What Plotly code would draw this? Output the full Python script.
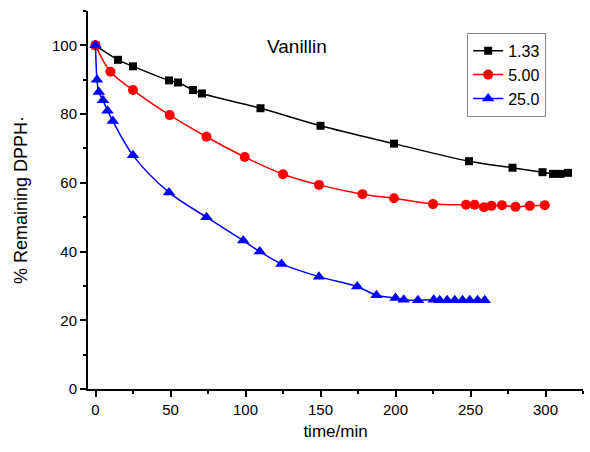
import plotly.graph_objects as go

# Series 1.33
t_133 = [0, 15, 25, 49, 55, 65, 71, 110, 150, 199, 249, 278, 298, 305, 310, 315]
r_133 = [100, 95.8, 93.9, 89.8, 89.2, 87.0, 86.0, 81.7, 76.6, 71.4, 66.3, 64.4, 63.1, 62.6, 62.6, 62.9]

# Series 5.00
t_500 = [0, 10, 25, 49.5, 74, 99.5, 125, 149, 178, 199, 225, 247, 252.7, 259, 264, 271, 280, 289.5, 299.5]
r_500 = [100, 92.3, 87.0, 79.7, 73.4, 67.5, 62.5, 59.4, 56.7, 55.5, 53.8, 53.6, 53.6, 52.9, 53.3, 53.5, 53.0, 53.3, 53.5]

# Series 25.0
t_250 = [0, 1, 2.2, 5, 8, 11.5, 25, 49, 74, 98.5, 109.5, 124, 149, 174.5, 187.3, 200, 205.5, 215,
         225.5, 229.5, 234.4, 239.5, 244.7, 249.5, 254.7, 259.5]
r_250 = [100, 90.0, 86.4, 84.0, 81.0, 78.0, 68.0, 57.2, 50.0, 43.2, 40.0, 36.4, 32.7, 29.8, 27.3, 26.5, 26.0, 25.8,
         26.0, 25.8, 25.8, 25.8, 25.8, 25.8, 25.8, 25.8]

series_names = ["1.33", "5.00", "25.0"]
x_ticks = [0, 50, 100, 150, 200, 250, 300]
y_ticks = [0, 20, 40, 60, 80, 100]

FONT = "Arial, Liberation Sans, sans-serif"

fig = go.Figure()
specs = [
    (t_133, r_133, series_names[0], "black", "square", 8),
    (t_500, r_500, series_names[1], "#ff0000", "circle", 10),
    (t_250, r_250, series_names[2], "#0000ff", "triangle-up", 11),
]
for xs, ys, nm, col, sym, sz in specs:
    fig.add_trace(go.Scatter(
        x=xs, y=ys, name=nm, mode="lines+markers",
        line=dict(color=col, width=1.5, shape="spline", smoothing=1),
        marker=dict(color=col, symbol=sym, size=sz, line=dict(width=0)),
    ))

axis_common = dict(
    showline=True, linecolor="black", linewidth=2, mirror=False,
    ticks="outside", ticklen=6, tickwidth=2, tickcolor="black",
    showgrid=False, zeroline=False,
    tickfont=dict(family=FONT, size=15, color="black"),
)

fig.update_xaxes(
    range=[-5, 325], tickvals=x_ticks, ticktext=[str(v) for v in x_ticks],
    minor=dict(dtick=25, tick0=0, ticks="outside", ticklen=3, tickwidth=2, tickcolor="black"),
    title=dict(text="time/min", font=dict(family=FONT, size=17, color="black"), standoff=8),
    **axis_common,
)
fig.update_yaxes(
    range=[0, 110], tickvals=y_ticks, ticktext=[str(v) for v in y_ticks],
    minor=dict(dtick=10, tick0=0, ticks="outside", ticklen=3, tickwidth=2, tickcolor="black"),
    title=dict(text="% Remaining DPPH·", font=dict(family=FONT, size=18, color="black"), standoff=20),
    **axis_common,
)

fig.add_annotation(x=134, y=99.7, text="Vanillin", showarrow=False,
                   font=dict(family=FONT, size=19, color="black"))

fig.update_layout(
    width=590, height=452,
    margin=dict(l=88, r=7, t=11, b=63),
    paper_bgcolor="white", plot_bgcolor="white",
    legend=dict(x=0.766, y=0.942, xanchor="left", yanchor="top",
                bgcolor="white", bordercolor="#888888", borderwidth=1,
                font=dict(family=FONT, size=16, color="black"),
                tracegroupgap=0),
    showlegend=True,
)

fig.write_html("out.html")
